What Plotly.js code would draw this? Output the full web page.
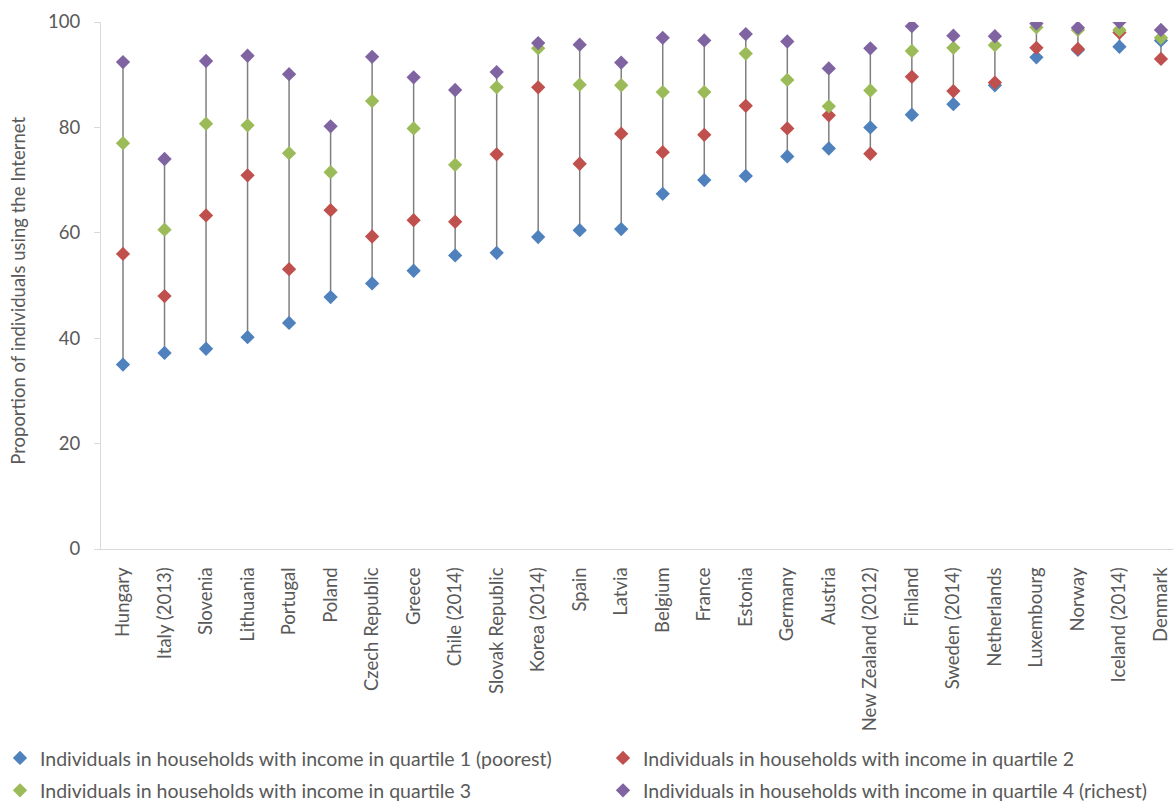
<!DOCTYPE html>
<html>
<head>
<meta charset="utf-8">
<script src="https://cdn.plot.ly/plotly-3.0.1.min.js"></script>
<style>html,body{margin:0;padding:0;background:#fff;}#chart{width:1173px;height:803px;}</style>
</head>
<body>
<div id="chart"></div>
<script>
const countries = ["Hungary","Italy (2013)","Slovenia","Lithuania","Portugal","Poland","Czech Republic","Greece","Chile (2014)","Slovak Republic","Korea (2014)","Spain","Latvia","Belgium","France","Estonia","Germany","Austria","New Zealand (2012)","Finland","Sweden (2014)","Netherlands","Luxembourg","Norway","Iceland (2014)","Denmark"];
const q1 = [35.0,37.2,38.0,40.2,42.9,47.8,50.4,52.8,55.7,56.2,59.2,60.5,60.7,67.4,70.0,70.8,74.5,76.0,80.0,82.4,84.4,88.0,93.3,94.7,95.3,96.5];
const q2 = [56.0,48.0,63.3,70.9,53.1,64.3,59.3,62.4,62.1,74.9,87.6,73.1,78.8,75.3,78.6,84.1,79.8,82.3,75.0,89.6,86.9,88.5,95.1,94.9,98.0,93.0];
const q3 = [77.0,60.6,80.7,80.4,75.1,71.5,85.0,79.8,72.9,87.6,95.0,88.1,88.0,86.7,86.7,94.0,89.0,84.0,87.0,94.5,95.1,95.6,99.0,98.5,98.5,97.0];
const q4 = [92.4,74.0,92.6,93.6,90.1,80.2,93.4,89.5,87.1,90.5,96.0,95.7,92.3,97.0,96.5,97.7,96.3,91.2,95.0,99.2,97.4,97.3,99.7,98.9,100.0,98.5];
const seriesNames = ["Individuals in households with income in quartile 1 (poorest)","Individuals in households with income in quartile 2","Individuals in households with income in quartile 3","Individuals in households with income in quartile 4 (richest)"];
const yTitle = "Proportion of individuals using the Internet";
const colors = ["#4F81BD","#C0504D","#9BBB59","#8064A2"];

const FONT = "Lato, 'Open Sans', sans-serif";
const TXT = "#595959";
const idx = countries.map((c,i)=>i);

// high-low lines from data
const hlx = [], hly = [];
idx.forEach(i => {
  const vals = [q1[i],q2[i],q3[i],q4[i]];
  hlx.push(i, i, null);
  hly.push(Math.min(...vals), Math.max(...vals), null);
});

const traces = [{
  type: "scatter", mode: "lines", x: hlx, y: hly,
  line: {color: "#7F7F7F", width: 1.5}, showlegend: false, hoverinfo: "skip"
}];
const legendFor = ["legend","legend2","legend","legend2"];
[q1,q2,q3,q4].forEach((s,k) => {
  traces.push({
    type: "scatter", mode: "markers", name: seriesNames[k],
    x: idx, y: s, legend: legendFor[k], legendgroup: "g" + k,
    marker: {symbol: "diamond", size: 11, color: colors[k], line: {width: 0}}
  });
});

const legendCommon = {
  orientation: "v", xref: "container", yref: "container",
  xanchor: "left", yanchor: "top",
  font: {family: FONT, size: 19.5, color: TXT},
  itemwidth: 30, tracegroupgap: 4, bgcolor: "rgba(0,0,0,0)"
};

const layout = {
  width: 1173, height: 803,
  margin: {l: 101, r: 0, t: 22, b: 254, autoexpand: false},
  paper_bgcolor: "#fff", plot_bgcolor: "#fff",
  font: {family: FONT, size: 18.5, color: TXT},
  showlegend: true,
  xaxis: {
    range: [-0.53, 25.29], automargin: false,
    tickmode: "array", tickvals: idx, ticktext: countries,
    tickangle: -90, showgrid: false, zeroline: false,
    showline: true, linecolor: "#D9D9D9", linewidth: 1,
    ticks: "", ticklabelstandoff: 10,
    tickfont: {family: FONT, size: 18.5, color: TXT}
  },
  yaxis: {
    range: [0, 100], tickvals: [0,20,40,60,80,100], automargin: false,
    showgrid: false, zeroline: false,
    showline: true, linecolor: "#D9D9D9", linewidth: 1,
    ticks: "outside", ticklen: 6, tickcolor: "#D9D9D9", ticklabelstandoff: 10,
    tickfont: {family: FONT, size: 18.5, color: TXT}
  },
  annotations: [{
    text: yTitle, textangle: -90, showarrow: false,
    xref: "paper", yref: "paper", x: (18 - 101) / 1072, y: 0.49,
    xanchor: "center", yanchor: "middle",
    font: {family: FONT, size: 18.5, color: TXT}
  }],
  legend: Object.assign({}, legendCommon, {x: 0.0, y: 0.08}),
  legend2: Object.assign({}, legendCommon, {x: 603/1173, y: 0.08})
};

Plotly.newPlot("chart", traces, layout, {displayModeBar: false, staticPlot: true});
</script>
</body>
</html>
